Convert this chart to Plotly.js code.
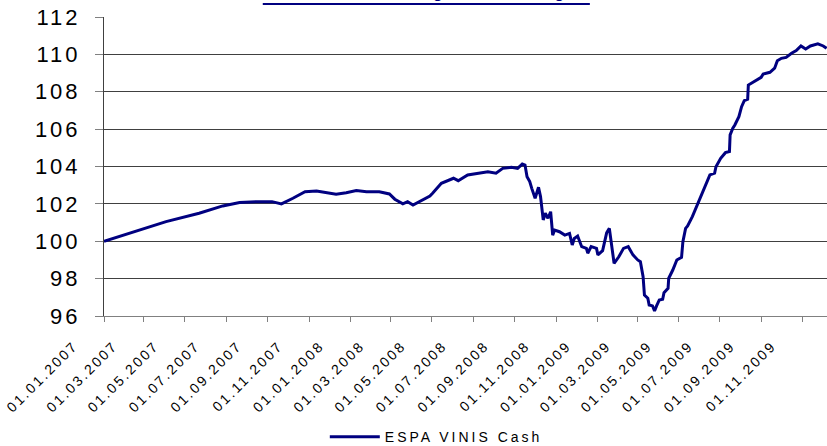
<!DOCTYPE html>
<html>
<head>
<meta charset="utf-8">
<script src="https://cdn.plot.ly/plotly-3.0.1.min.js"></script>
<style>
  html, body { margin: 0; padding: 0; background: #fff; overflow: hidden; }
  svg text { letter-spacing: 3px; }
  .xtick text { letter-spacing: 2.4px; }
</style>
</head>
<body>
<div id="chart" style="width:827px;height:446px;"></div>
<script>
const seriesName = 'ESPA VINIS Cash';
const chartTitle = 'Wertentwicklung seit Auflage';

const dates = [
  '2007-01-01','2007-02-13','2007-04-03','2007-05-22','2007-06-26','2007-07-21','2007-08-15',
  '2007-09-07','2007-09-21','2007-10-08','2007-10-26','2007-11-12','2007-11-26','2007-12-11',
  '2007-12-26','2008-01-10','2008-01-25','2008-02-13','2008-02-28','2008-03-07','2008-03-19',
  '2008-03-26','2008-04-03','2008-04-14','2008-04-28','2008-05-02','2008-05-15','2008-06-02',
  '2008-06-09','2008-06-23','2008-07-08','2008-07-23','2008-08-04','2008-08-14','2008-08-27',
  '2008-09-05','2008-09-12','2008-09-16','2008-09-19','2008-09-23','2008-09-26','2008-10-01',
  '2008-10-06','2008-10-09','2008-10-13','2008-10-16','2008-10-20','2008-10-24','2008-10-27',
  '2008-10-30','2008-11-06','2008-11-14','2008-11-21','2008-11-25','2008-11-28','2008-12-03',
  '2008-12-09','2008-12-16','2008-12-18','2008-12-23','2008-12-31','2009-01-02','2009-01-09',
  '2009-01-15','2009-01-19','2009-01-22','2009-01-26','2009-02-02','2009-02-09','2009-02-16',
  '2009-02-23','2009-03-02','2009-03-06','2009-03-10','2009-03-12','2009-03-17','2009-03-19',
  '2009-03-24','2009-03-27','2009-03-30','2009-04-03','2009-04-08','2009-04-10','2009-04-16',
  '2009-04-17','2009-04-23','2009-04-29','2009-05-06','2009-05-08','2009-05-12','2009-05-15',
  '2009-05-22','2009-05-28','2009-06-02','2009-06-09','2009-06-12','2009-06-17','2009-06-24',
  '2009-06-26','2009-07-03','2009-07-10','2009-07-16','2009-07-17','2009-07-21','2009-07-24',
  '2009-07-30','2009-08-03','2009-08-07','2009-08-12','2009-08-13','2009-08-19','2009-08-26',
  '2009-09-01','2009-09-04','2009-09-14','2009-09-21','2009-09-25','2009-10-01','2009-10-08',
  '2009-10-16','2009-10-23','2009-10-30','2009-11-06','2009-11-13','2009-11-24','2009-12-02',
  '2009-12-07'
];

const values = [
  100.00,100.51,101.05,101.50,101.89,102.07,102.12,
  102.12,102.00,102.30,102.65,102.69,102.60,102.51,
  102.60,102.71,102.65,102.65,102.53,102.25,102.00,
  102.12,101.94,102.17,102.42,102.57,103.10,103.37,
  103.24,103.55,103.64,103.72,103.64,103.90,103.96,
  103.90,104.13,104.08,103.45,103.19,102.83,102.30,
  102.89,102.39,101.14,101.50,101.23,101.58,100.33,
  100.60,100.51,100.33,100.42,99.80,100.15,100.28,
  99.71,99.62,99.36,99.71,99.62,99.27,99.50,
  100.45,100.69,99.98,98.82,99.17,99.62,99.71,
  99.27,99.00,98.91,98.10,97.12,96.95,96.59,
  96.54,96.27,96.54,96.86,96.90,97.25,97.48,
  98.02,98.46,99.00,99.14,99.98,100.69,100.82,
  101.32,101.85,102.30,102.92,103.19,103.55,103.64,
  103.99,104.44,104.74,104.80,105.69,106.05,106.22,
  106.67,107.20,107.52,107.60,108.36,108.48,108.63,
  108.77,108.95,109.04,109.26,109.66,109.79,109.84,
  110.06,110.20,110.45,110.29,110.45,110.56,110.45,
  110.32
];

const yTicks = [96, 98, 100, 102, 104, 106, 108, 110, 112];

const trace = {
  x: dates,
  y: values,
  type: 'scatter',
  mode: 'lines',
  name: seriesName,
  line: { color: '#000080', width: 3 },
  showlegend: true
};

const layout = {
  width: 827,
  height: 446,
  margin: { l: 104, r: 0, t: 17, b: 130, autoexpand: false },
  paper_bgcolor: '#ffffff',
  plot_bgcolor: '#ffffff',
  font: { family: 'Liberation Sans, Arial, sans-serif', color: '#000000' },
  xaxis: {
    type: 'date',
    range: ['2007-01-01', '2009-12-07 14:00'],
    tick0: '2007-01-01',
    dtick: 'M2',
    tickformat: '%d.%m.%Y',
    tickangle: -45,
    tickfont: { size: 14, color: '#000000' },
    ticks: 'outside',
    ticklen: 5,
    tickcolor: '#808080',
    showgrid: false,
    showline: true,
    linecolor: '#808080',
    linewidth: 1,
    zeroline: false,
    automargin: false,
    ticklabelshift: -30,
    ticklabelstandoff: 10,
    fixedrange: true
  },
  yaxis: {
    range: [96, 112],
    tickvals: yTicks,
    ticktext: yTicks.map(String),
    tickfont: { size: 22, color: '#000000' },
    ticks: 'outside',
    ticklen: 8,
    tickcolor: '#808080',
    showgrid: true,
    gridcolor: '#404040',
    gridwidth: 1,
    showline: true,
    linecolor: '#404040',
    linewidth: 1,
    zeroline: false,
    automargin: false,
    ticklabelstandoff: 10,
    fixedrange: true
  },
  showlegend: true,
  legend: {
    orientation: 'h',
    x: 0.3054,
    xanchor: 'left',
    y: -0.405,
    yanchor: 'middle',
    font: { size: 14, color: '#000000' },
    itemwidth: 50,
    bgcolor: 'rgba(0,0,0,0)'
  },
  annotations: [{
    text: chartTitle,
    xref: 'paper', yref: 'paper',
    x: 0.4458, y: 1.047,
    xanchor: 'center', yanchor: 'bottom',
    showarrow: false,
    font: { size: 16, color: '#000080', family: 'Liberation Sans, Arial, sans-serif', weight: 'bold' }
  }],
  shapes: [{
    type: 'line',
    xref: 'paper', yref: 'paper',
    x0: 0.2196, x1: 0.672, y0: 1.0435, y1: 1.0435,
    line: { color: '#000080', width: 2 }
  }]
};

Plotly.newPlot('chart', [trace], layout, { displayModeBar: false, staticPlot: true });
</script>
</body>
</html>
